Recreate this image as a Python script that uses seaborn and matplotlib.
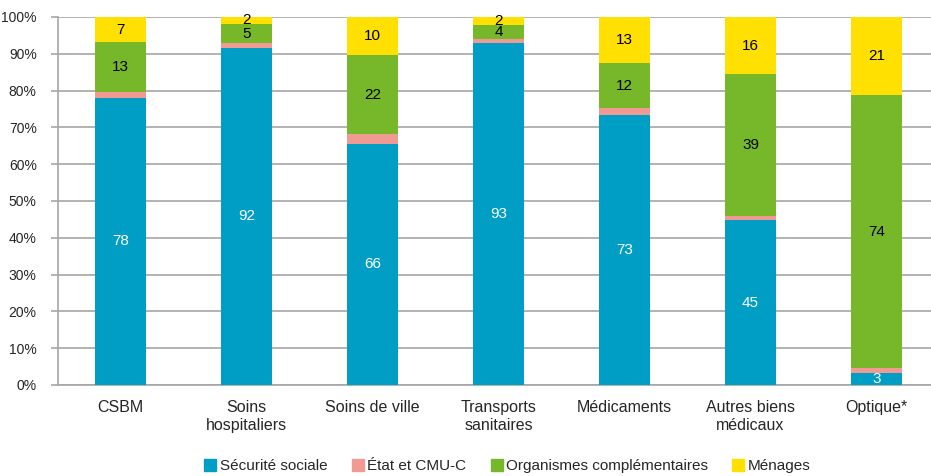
import matplotlib
matplotlib.use("Agg")
import matplotlib.pyplot as plt
import seaborn as sns
import numpy as np
import pandas as pd
from matplotlib.lines import Line2D

categories = ["CSBM", "Soins\nhospitaliers", "Soins de ville", "Transports\nsanitaires",
              "Médicaments", "Autres biens\nmédicaux", "Optique*"]
securite_sociale = [78.1, 91.7, 65.6, 92.9, 73.5, 44.8, 3.2]
etat_cmuc = [1.6, 1.2, 2.5, 1.2, 1.7, 1.0, 1.4]
organismes_compl = [13.4, 5.2, 21.6, 3.6, 12.2, 38.6, 74.1]
menages = [6.9, 1.9, 10.3, 2.3, 12.6, 15.6, 21.3]
ss_labels = ["78", "92", "66", "93", "73", "45", "3"]
oc_labels = ["13", "5", "22", "4", "12", "39", "74"]
men_labels = ["7", "2", "10", "2", "13", "16", "21"]
series_names = ["Sécurité sociale", "État et CMU-C", "Organismes complémentaires", "Ménages"]
colors = ["#009DC4", "#F19A94", "#77B82A", "#FFE000"]

sns.set_style("white")
plt.rcParams['font.family'] = ['Liberation Sans', 'DejaVu Sans']

fig = plt.figure(figsize=(9.31, 4.76), dpi=100)
ax = fig.add_axes([57.5 / 931, 1 - 385 / 476, 882 / 931, 368 / 476])

ss = np.array(securite_sociale)
et = np.array(etat_cmuc)
oc = np.array(organismes_compl)
me = np.array(menages)
layers = [ss, ss + et, ss + et + oc, ss + et + oc + me]

for i in range(3, -1, -1):
    df = pd.DataFrame({"cat": categories, "val": layers[i]})
    sns.barplot(data=df, x="cat", y="val", color=colors[i], width=0.40,
                saturation=1, ax=ax, zorder=3, edgecolor="none", linewidth=0)

lab_fs = 11
for j in range(len(categories)):
    ax.text(j, ss[j] / 2, ss_labels[j], ha="center", va="center", color="white", fontsize=lab_fs, zorder=5)
    ax.text(j, ss[j] + et[j] + oc[j] / 2, oc_labels[j], ha="center", va="center", color="black", fontsize=lab_fs, zorder=5)
    ax.text(j, ss[j] + et[j] + oc[j] + me[j] / 2, men_labels[j], ha="center", va="center", color="black", fontsize=lab_fs, zorder=5)

ax.set_ylim(0, 100)
ax.set_xlim(-0.5, len(categories) - 0.5)
ax.set_yticks(np.arange(0, 101, 10))
ax.set_yticklabels([f"{v}%" for v in range(0, 101, 10)], fontsize=10)
ax.yaxis.grid(True, color="#A6A6A6", linewidth=1.2, zorder=0)
ax.set_axisbelow(True)
ax.set_xlabel("")
ax.set_ylabel("")
ax.tick_params(axis="x", which="major", length=0, labelsize=11.5, pad=11)
ax.set_xticks(np.arange(-0.5, len(categories), 1.0), minor=True)
ax.tick_params(axis="x", which="minor", length=6, color="#A6A6A6", width=1.2, direction="out")
ax.tick_params(axis="y", length=5, color="#A6A6A6", width=1.2, direction="out", left=True, pad=10)
for s in ["top", "right"]:
    ax.spines[s].set_visible(False)
for s in ["left", "bottom"]:
    ax.spines[s].set_color("#A6A6A6")
    ax.spines[s].set_linewidth(1.2)

handles = [Line2D([0], [0], marker="s", color="none", markerfacecolor=c, markeredgecolor=c,
                  markersize=8) for c in colors]
fig.legend(handles, series_names, loc="center", bbox_to_anchor=(508 / 931, 1 - 466 / 476), ncol=4,
           frameon=False, fontsize=11, handlelength=0.6, handletextpad=0.3, columnspacing=1.7)

fig.savefig("out.png", dpi=100)
